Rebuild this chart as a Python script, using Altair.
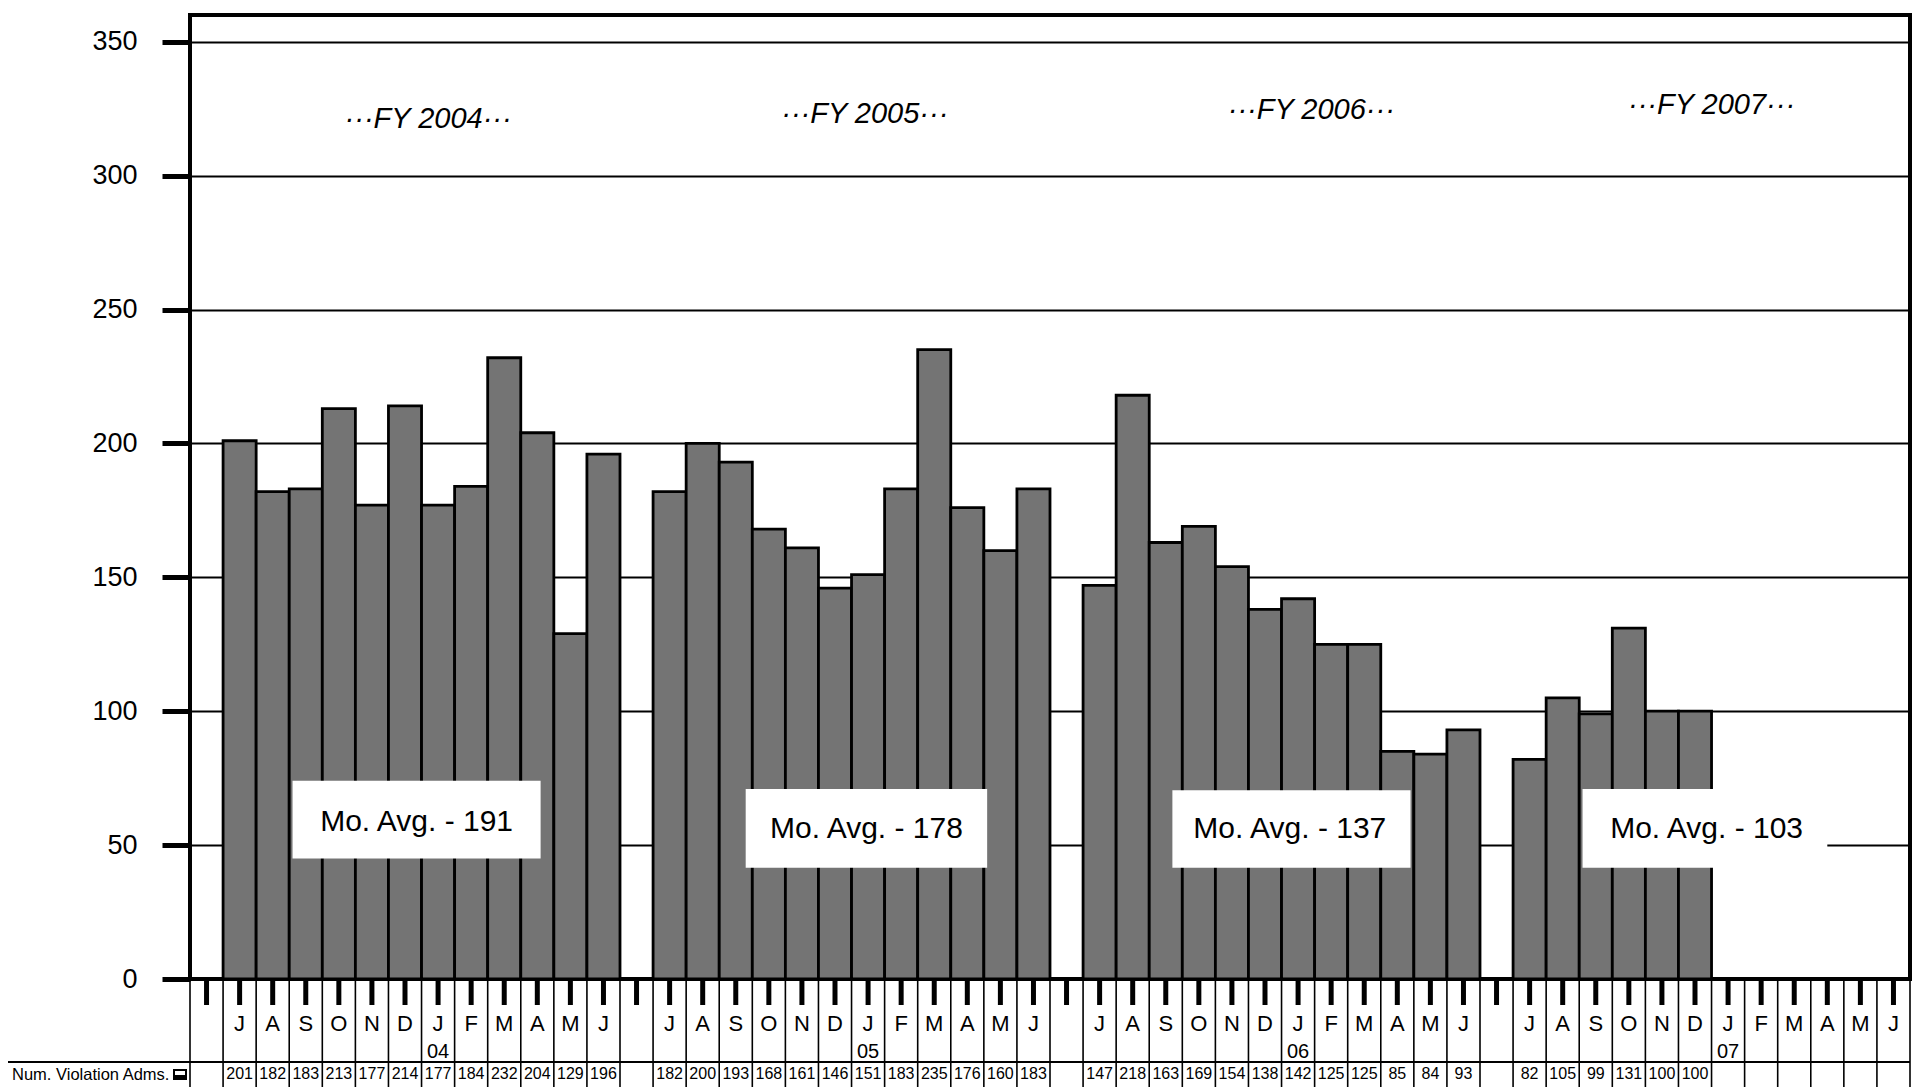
import altair as alt
import pandas as pd

# ---------------- data ----------------
months = ["J", "A", "S", "O", "N", "D", "J", "F", "M", "A", "M", "J"]
fy_names = ["FY 2004", "FY 2005", "FY 2006", "FY 2007"]
year_marks = ["04", "05", "06", "07"]
fy2004 = [201, 182, 183, 213, 177, 214, 177, 184, 232, 204, 129, 196]
fy2005 = [182, 200, 193, 168, 161, 146, 151, 183, 235, 176, 160, 183]
fy2006 = [147, 218, 163, 169, 154, 138, 142, 125, 125, 85, 84, 93]
fy2007 = [82, 105, 99, 131, 100, 100, None, None, None, None, None, None]
mo_avg = [191, 178, 137, 103]
y_ticks = [0, 50, 100, 150, 200, 250, 300, 350]
row_label = "Num. Violation Adms."

# annotation placement (slot units / value units)
avg_box_x = [(3.1, 10.6), (16.8, 24.1), (29.7, 36.9), (42.1, 49.5)]
avg_box_y = [(45, 74), (41.5, 71), (41.5, 70.5), (41.5, 71)]
avg_text_pos = [(6.85, 58.8), (20.45, 56), (33.25, 56), (45.85, 56)]
fy_text_pos = [(7.2, 321), (20.4, 323), (33.9, 324.5), (46.0, 326.5)]

FONT = "Liberation Sans"

rows = []
slot = 0
for fy, vals, yr in zip(fy_names, [fy2004, fy2005, fy2006, fy2007], year_marks):
    slot += 1  # empty column separating the fiscal years
    for i, (m, v) in enumerate(zip(months, vals)):
        rows.append(dict(x0=slot, x1=slot + 1, xc=slot + 0.5, month=m,
                         year=yr if i == 6 else "", value=v,
                         label="" if v is None else str(v)))
        slot += 1
n_slots = slot + 0
df = pd.DataFrame(rows)
bars_df = df[df["value"].notna()].copy()

bounds_df = pd.DataFrame({"b": list(range(n_slots + 1))})
centers_df = pd.DataFrame({"c": [i + 0.5 for i in range(n_slots)]})

avg_df = pd.DataFrame({
    "x0": [a for a, b in avg_box_x], "x1": [b for a, b in avg_box_x],
    "y0": [a for a, b in avg_box_y], "y1": [b for a, b in avg_box_y],
    "tx": [p[0] for p in avg_text_pos], "ty": [p[1] for p in avg_text_pos],
    "text": [f"Mo. Avg. - {v}" for v in mo_avg],
})
fy_df = pd.DataFrame({
    "tx": [p[0] for p in fy_text_pos], "ty": [p[1] for p in fy_text_pos],
    "text": [f"\u00b7\u00b7\u00b7{n}\u00b7\u00b7\u00b7" for n in fy_names],
})

W, H = 1720, 964
xs = alt.Scale(domain=[0, n_slots], nice=False, zero=False)
ys = alt.Scale(domain=[0, 360], nice=False)

yaxis = alt.Axis(values=y_ticks, grid=True, gridColor="black", gridWidth=1.8,
                 gridOpacity=1, domain=False, ticks=True, tickColor="black",
                 tickSize=28, tickWidth=5, labelFont=FONT, labelFontSize=27,
                 labelColor="black", labelPadding=25, title=None)

bars = alt.Chart(bars_df).mark_rect(fill="#747474", stroke="black", strokeWidth=2.8).encode(
    x=alt.X("x0:Q", scale=xs, axis=None),
    x2="x1:Q",
    y=alt.Y("value:Q", scale=ys, axis=yaxis),
    y2=alt.datum(0),
)

avg_boxes = alt.Chart(avg_df).mark_rect(fill="white", stroke=None).encode(
    x=alt.X("x0:Q", scale=xs, axis=None), x2="x1:Q",
    y=alt.Y("y0:Q", scale=ys), y2="y1:Q",
)
avg_text = alt.Chart(avg_df).mark_text(font=FONT, fontSize=30, color="black",
                                       align="center", baseline="middle").encode(
    x=alt.X("tx:Q", scale=xs, axis=None), y=alt.Y("ty:Q", scale=ys), text="text:N",
)
fy_text = alt.Chart(fy_df).mark_text(font=FONT, fontSize=29, fontStyle="italic",
                                     color="black", align="center", baseline="middle").encode(
    x=alt.X("tx:Q", scale=xs, axis=None), y=alt.Y("ty:Q", scale=ys), text="text:N",
)

# ---- table below the plot ----
Y_ZERO = H
seps = alt.Chart(bounds_df).mark_rule(color="black", strokeWidth=1.6).encode(
    x=alt.X("b:Q", scale=xs, axis=None),
    y=alt.value(Y_ZERO), y2=alt.value(H + 120),
)
ticks = alt.Chart(centers_df).mark_rule(color="black", strokeWidth=5).encode(
    x=alt.X("c:Q", scale=xs, axis=None),
    y=alt.value(Y_ZERO), y2=alt.value(H + 26),
)
month_text = alt.Chart(df).mark_text(font=FONT, fontSize=22, color="black",
                                     align="center", baseline="middle").encode(
    x=alt.X("xc:Q", scale=xs, axis=None), y=alt.value(H + 45), text="month:N",
)
year_text = alt.Chart(df).mark_text(font=FONT, fontSize=20, color="black",
                                    align="center", baseline="middle").encode(
    x=alt.X("xc:Q", scale=xs, axis=None), y=alt.value(H + 73), text="year:N",
)
val_text = alt.Chart(df).mark_text(font=FONT, fontSize=16, color="black",
                                   align="center", baseline="middle").encode(
    x=alt.X("xc:Q", scale=xs, axis=None), y=alt.value(H + 95), text="label:N",
)
row_line = alt.Chart(pd.DataFrame({"a": [0]})).mark_rule(color="black", strokeWidth=1.8).encode(
    x=alt.value(-184), x2=alt.value(W), y=alt.value(H + 83),
)
box_left = alt.Chart(pd.DataFrame({"a": [0]})).mark_rule(color="black", strokeWidth=1.8).encode(
    x=alt.value(-183), y=alt.value(H + 83), y2=alt.value(H + 120),
)
label_text = alt.Chart(pd.DataFrame({"t": [row_label]})).mark_text(
    font=FONT, fontSize=16.5, color="black", align="left", baseline="middle").encode(
    x=alt.value(-178), y=alt.value(H + 96), text="t:N",
)
icon_outer = alt.Chart(pd.DataFrame({"a": [0]})).mark_rect(fill="black").encode(
    x=alt.value(-17), x2=alt.value(-3), y=alt.value(H + 90), y2=alt.value(H + 101),
)
icon_inner = alt.Chart(pd.DataFrame({"a": [0]})).mark_rect(fill="white").encode(
    x=alt.value(-15), x2=alt.value(-5), y=alt.value(H + 92), y2=alt.value(H + 96),
)

chart = alt.layer(
    bars, avg_boxes, avg_text, fy_text,
    seps, ticks, month_text, year_text, val_text,
    row_line, box_left, label_text, icon_outer, icon_inner,
).properties(
    width=W, height=H,
    padding={"left": 182, "top": 7, "right": 5, "bottom": 108},
    autosize=alt.AutoSizeParams(type="none"),
    background="white",
).configure_view(stroke="black", strokeWidth=4)

chart.save("out.html", embed_options={"renderer": "svg", "actions": False})
